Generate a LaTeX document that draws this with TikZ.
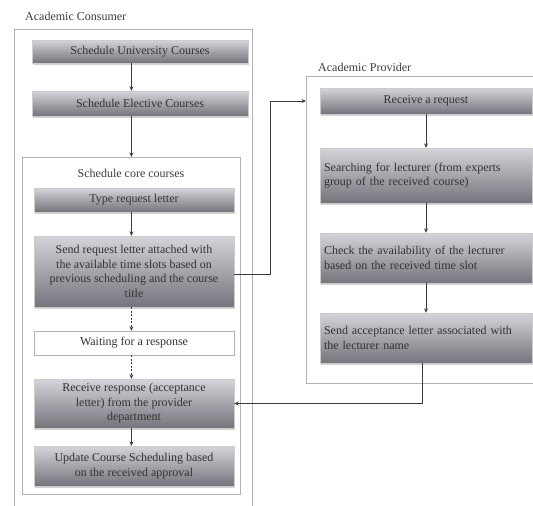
\documentclass[tikz,border=0pt]{standalone}
\usepackage{fontspec}
\setmainfont{Liberation Serif}
\usetikzlibrary{arrows.meta,shadows}
\definecolor{boxtop}{RGB}{212,212,218}
\definecolor{boxbot}{RGB}{116,116,124}
\definecolor{inkgray}{RGB}{60,60,64}

\begin{document}
\begin{tikzpicture}[x=1pt,y=-1pt,
    font=\fontsize{12}{14.5}\selectfont,
    lane/.style={draw=black!30, line width=0.8pt, inner sep=0pt},
    title/.style={text=inkgray, inner sep=0pt},
    task/.style={draw=black!20, top color=boxtop, bottom color=boxbot,
      text=black!80, align=center, inner sep=2pt,
      drop shadow={shadow xshift=1.2pt, shadow yshift=-1.5pt, opacity=0.35}},
    rtask/.style={task, align=left, text width=204pt, inner xsep=4pt},
    wait/.style={draw=black!30, fill=white, text=black!80,
      drop shadow={shadow xshift=1pt, shadow yshift=-1pt, opacity=0.2}},
    link/.style={draw=inkgray, line width=1pt, -{Stealth[length=4.5pt,width=4pt]}},
    wlink/.style={link, dash pattern=on 2pt off 1.5pt}]
  \useasboundingbox (0,0) rectangle (533,506);

  % lanes
  \node[lane, anchor=north west, minimum width=238pt, minimum height=500pt] (cons) at (14,29) {};
  \node[lane, anchor=north west, minimum width=218pt, minimum height=337pt] (core) at (22,157) {};
  \node[lane, anchor=north west, minimum width=270pt, minimum height=307pt] (prov) at (306,76) {};
  \node[title, anchor=west] (t1) at (25,16) {Academic Consumer};
  \node[title, anchor=west] (t2) at (318,67) {Academic Provider};
  \node[title] (t3) at (131,173) {Schedule core courses};

  % consumer side
  \node[task, minimum width=216pt, minimum height=23pt] (c1) at (140,51.5) {Schedule University Courses};
  \node[task, minimum width=216pt, minimum height=25pt] (c2) at (140,103.5) {Schedule Elective Courses};
  \node[task, minimum width=200pt, minimum height=24pt] (c3) at (134,200) {Type request letter};
  \node[task, minimum width=200pt, minimum height=71pt] (c4) at (134,271.5)
    {Send request letter attached with\\the available time slots based on\\previous scheduling and the course\\title};
  \node[wait, minimum width=200pt, minimum height=24pt] (c5) at (134,343) {Waiting for a response};
  \node[task, minimum width=200pt, minimum height=49pt] (c6) at (134,403.5)
    {Receive response (acceptance\\letter) from the provider\\department};
  \node[task, minimum width=200pt, minimum height=40pt] (c7) at (134,466)
    {Update Course Scheduling based\\on the received approval};

  % provider side
  \node[task, minimum width=212pt, minimum height=26pt] (p1) at (426,101) {Receive a request};
  \node[rtask, minimum height=55pt] (p2) at (426,175.5)
    {Searching for lecturer (from experts\\group of the received course)};
  \node[rtask, minimum height=50pt] (p3) at (426,258)
    {Check the availability of the lecturer\\based on the received time slot};
  \node[rtask, minimum height=50pt] (p4) at (426,338)
    {Send acceptance letter associated with\\the lecturer name};

  \coordinate (k1) at (270,274);
  \coordinate (k2) at (422,363);

  \draw[link] (c1.south -| core.north) -- (c2.north -| core.north);
  \draw[link] (c2.south -| core.north) -- (core.north);
  \draw[link] (c3.south -| core.north) -- (c4.north -| core.north);
  \draw[wlink] (c4.south -| core.north) -- (c5.north -| core.north);
  \draw[wlink] (c5.south -| core.north) -- (c6.north -| core.north);
  \draw[link] (c6.south -| core.north) -- (c7.north -| core.north);
  \draw[link] (p1) -- (p2);
  \draw[link] (p2) -- (p3);
  \draw[link] (p3) -- (p4);
  \draw[link] (c4.east |- k1) -- (k1) |- (prov.west |- p1);
  \draw[link] (p4.south -| k2) |- (c6.east);
\end{tikzpicture}
\end{document}
